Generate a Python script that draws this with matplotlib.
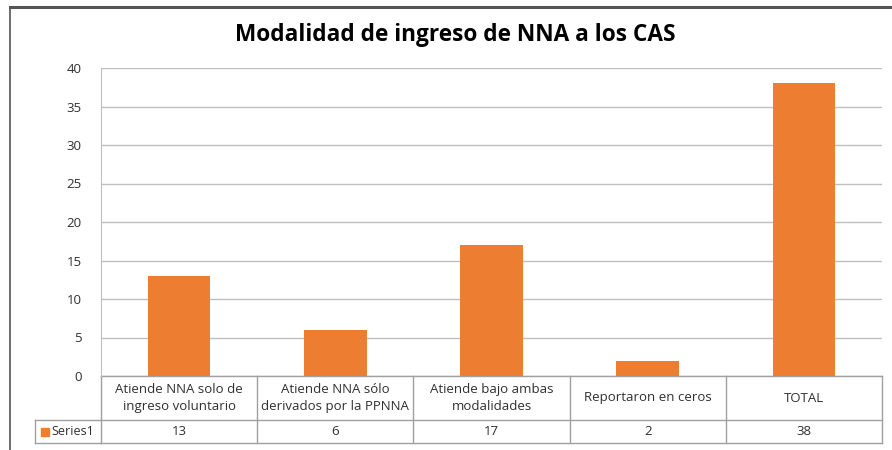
import matplotlib.pyplot as plt
from matplotlib.patches import Rectangle

categories = ['Atiende NNA solo de\ningreso voluntario',
              'Atiende NNA sólo\nderivados por la PPNNA',
              'Atiende bajo ambas\nmodalidades',
              'Reportaron en ceros',
              'TOTAL']
values = [13, 6, 17, 2, 38]
series_name = 'Series1'
title = 'Modalidad de ingreso de NNA a los CAS'

W, H = 892, 450
bar_color = '#ED7D31'
grid_color = '#BFBFBF'
text_color = '#303030'

plt.rcParams['font.family'] = ['Open Sans', 'DejaVu Sans']

fig = plt.figure(figsize=(W / 100, H / 100), dpi=100)
fig.patch.set_facecolor('white')

# outer frame (top and left edges only, as in the screenshot)
fig.add_artist(plt.Line2D([10 / W, 1], [1 - 7 / H, 1 - 7 / H], color='#555555', lw=2.2))
fig.add_artist(plt.Line2D([10 / W, 10 / W], [0, 1 - 7 / H], color='#555555', lw=1.2))

left, right, top, bottom = 101, 882, 68, 376
ax = fig.add_axes([left / W, 1 - bottom / H, (right - left) / W, (bottom - top) / H])

x = range(len(values))
ax.bar(x, values, width=0.4, color=bar_color, zorder=3)
ax.set_xlim(-0.5, len(values) - 0.5)
ax.set_ylim(0, 40)
ax.set_yticks(range(0, 41, 5))
ax.yaxis.grid(True, color=grid_color, lw=1)
ax.set_axisbelow(True)
ax.tick_params(axis='y', length=0, pad=14, labelsize=9.5, labelcolor=text_color)
ax.set_xticks([])
for s in ['top', 'right', 'bottom']:
    ax.spines[s].set_visible(False)
ax.spines['left'].set_color(grid_color)

fig.text(455 / W, 1 - 35 / H, title, ha='center', va='center', fontsize=16.3,
         fontweight='bold', color='black')

# data table under the axis
row1_bot = 420
row2_bot = 443
tr = ax.get_xaxis_transform()


def yax(py):
    return (bottom - py) / (bottom - top)


lc = '#A0A0A0'
# horizontal lines
for py in [bottom, row1_bot, row2_bot]:
    ax.plot([-0.5, len(values) - 0.5], [yax(py)] * 2, transform=tr, color=lc, lw=1, clip_on=False)
# lines around the series label cell
fig.add_artist(plt.Line2D([35 / W, left / W], [1 - row1_bot / H] * 2, color=lc, lw=1))
fig.add_artist(plt.Line2D([35 / W, left / W], [1 - row2_bot / H] * 2, color=lc, lw=1))
fig.add_artist(plt.Line2D([35 / W, 35 / W], [1 - row2_bot / H, 1 - row1_bot / H], color=lc, lw=1))
# vertical lines
for i in range(len(values) + 1):
    ax.plot([i - 0.5, i - 0.5], [yax(bottom), yax(row2_bot)], transform=tr, color=lc, lw=1, clip_on=False)

for i, (c, v) in enumerate(zip(categories, values)):
    ax.text(i, yax((bottom + row1_bot) / 2), c, transform=tr, ha='center', va='center',
            fontsize=9.5, color=text_color, linespacing=1.35)
    ax.text(i, yax((row1_bot + row2_bot) / 2), str(v), transform=tr, ha='center', va='center',
            fontsize=9.5, color=text_color)

fig.add_artist(Rectangle((41 / W, 1 - 436 / H), 8 / W, 8 / H, color=bar_color))
fig.text(51 / W, 1 - (row1_bot + row2_bot) / 2 / H, series_name, ha='left', va='center',
         fontsize=9, color=text_color)

fig.savefig('out.png', dpi=100)
